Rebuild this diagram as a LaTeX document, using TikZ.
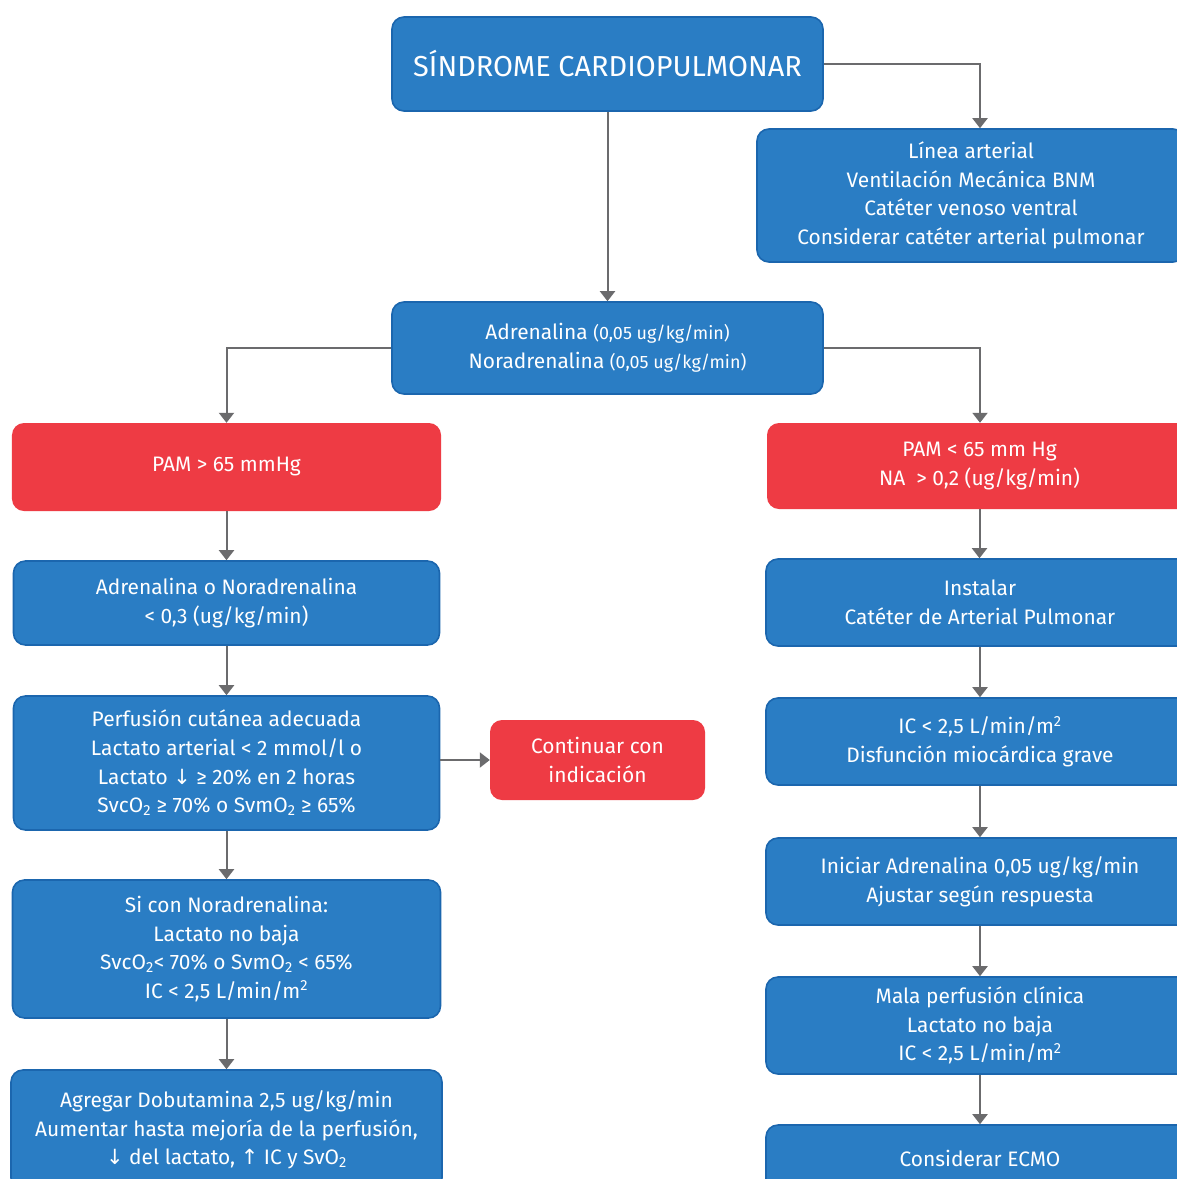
\documentclass[tikz,border=0pt]{standalone}
\usepackage{fontspec}
\setmainfont{Fira Sans}
\newfontfamily\arrfont{DejaVu Sans}
\usetikzlibrary{arrows.meta}
\definecolor{bfill}{HTML}{2A7DC4}
\definecolor{bline}{HTML}{1B66AE}
\definecolor{rfill}{HTML}{EE3B44}
\definecolor{cgray}{HTML}{6B6B6D}
\newcommand{\dn}{{\arrfont\char"2193}}
\newcommand{\up}{{\arrfont\char"2191}}
\tikzset{
  box/.style={draw=bline, line width=1.6bp, fill=bfill, rounded corners=12bp, text=white, align=center, inner sep=0pt, font=\fontsize{21}{28.7}\selectfont},
  redbox/.style={fill=rfill, rounded corners=12bp, text=white, align=center, inner sep=0pt, font=\fontsize{21}{28.7}\selectfont},
  arr/.style={draw=cgray, line width=2bp, -{Triangle[width=15bp,length=10bp]}},
}
\begin{document}
\begin{tikzpicture}[x=1bp,y=-1bp]
\useasboundingbox (0,0) rectangle (1177,1179);
\clip (0,0) rectangle (1177,1179);
\fill[white] (0,0) rectangle (1177,1179);

\node[box, minimum width=431bp, minimum height=94bp, font=\fontsize{29}{34}\selectfont] (title) at (607.5,64) {SÍNDROME CARDIOPULMONAR};
\node[box, minimum width=428bp, minimum height=133bp] (rb1) at (971,195.5) {Línea arterial\\Ventilación Mecánica BNM\\Catéter venoso ventral\\Considerar catéter arterial pulmonar};
\node[box, minimum width=431bp, minimum height=92bp] (adr) at (607.5,348) {Adrenalina {\fontsize{18}{28.7}\selectfont(0,05 ug/kg/min)}\\Noradrenalina {\fontsize{18}{28.7}\selectfont(0,05 ug/kg/min)}};

\node[redbox, minimum width=429bp, minimum height=88bp] (red1) at (226.5,467) {PAM > 65 mmHg};
\node[redbox, minimum width=425bp, minimum height=86bp] (red2) at (979.5,466) {PAM < 65 mm Hg\\NA \ > 0,2 (ug/kg/min)};

\node[box, minimum width=426bp, minimum height=84bp] (b1) at (226.5,603) {Adrenalina o Noradrenalina\\< 0,3 (ug/kg/min)};
\node[box, minimum width=426bp, minimum height=134bp] (b2) at (226.5,763) {Perfusión cutánea adecuada\\Lactato arterial < 2 mmol/l o\\Lactato \dn\ ≥ 20\% en 2 horas\\SvcO\textsubscript{2} ≥ 70\% o SvmO\textsubscript{2} ≥ 65\%};
\node[redbox, minimum width=215bp, minimum height=80bp] (cont) at (597.5,760) {Continuar con\\indicación};
\node[box, minimum width=428bp, minimum height=138bp] (b3) at (226.5,949) {Si con Noradrenalina:\\Lactato no baja\\SvcO\textsubscript{2}< 70\% o SvmO\textsubscript{2} < 65\%\\IC < 2,5 L/min/m\textsuperscript{2}};
\node[box, minimum width=431bp, minimum height=120bp] (b4) at (226.5,1130) {Agregar Dobutamina 2,5 ug/kg/min\\Aumentar hasta mejoría de la perfusión,\\\dn\ del lactato, \up\ IC y SvO\textsubscript{2}};

\node[box, minimum width=428bp, minimum height=87bp] (r1) at (980,602.5) {Instalar\\Catéter de Arterial Pulmonar};
\node[box, minimum width=428bp, minimum height=87bp] (r2) at (980,741.5) {IC < 2,5 L/min/m\textsuperscript{2}\\Disfunción miocárdica grave};
\node[box, minimum width=428bp, minimum height=87bp] (r3) at (980,881.5) {Iniciar Adrenalina 0,05 ug/kg/min\\Ajustar según respuesta};
\node[box, minimum width=428bp, minimum height=97bp] (r4) at (980,1025.5) {Mala perfusión clínica\\Lactato no baja\\IC < 2,5 L/min/m\textsuperscript{2}};
\node[box, minimum width=428bp, minimum height=66bp] (r5) at (980,1158) {Considerar ECMO};

\draw[arr] (title.south) -- (adr.north);
\draw[arr] (title.east) -| ([xshift=9bp]rb1.north);
\draw[arr] (adr.west) -| (red1.north);
\draw[arr] (adr.east) -| ([xshift=0.5bp]red2.north);
\draw[arr] (red1.south) -- (b1.north);
\draw[arr] (b1.south) -- (b2.north);
\draw[arr] (b2.south) -- (b3.north);
\draw[arr] (b3.south) -- (b4.north);
\draw[arr] (b2.east |- cont.west) -- (cont.west);
\draw[arr] (red2.south) -- (red2.south |- r1.north);
\draw[arr] (r1.south) -- (r2.north);
\draw[arr] (r2.south) -- (r3.north);
\draw[arr] (r3.south) -- (r4.north);
\draw[arr] (r4.south) -- (r5.north);
\end{tikzpicture}
\end{document}
